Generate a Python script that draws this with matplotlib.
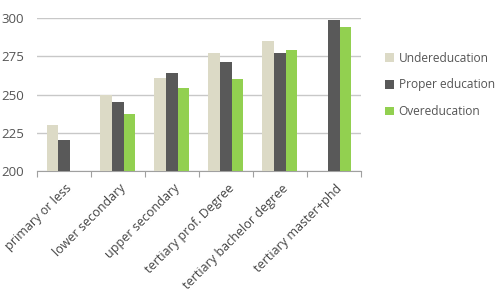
import matplotlib
matplotlib.use("Agg")
import matplotlib.pyplot as plt
import numpy as np

plt.rcParams['font.family'] = ['Open Sans', 'DejaVu Sans']

categories = ["primary or less", "lower secondary", "upper secondary",
              "tertiary prof. Degree", "tertiary bachelor degree", "tertiary master+phd"]
under = [230, 250, 261, 277, 285, np.nan]
proper = [220, 245, 264, 271, 277, 299]
over = [np.nan, 237.5, 254.5, 260, 279, 294]

c_under = "#dcdac6"
c_proper = "#595959"
c_over = "#92d050"

fig = plt.figure(figsize=(4.99, 2.97), dpi=100)
ax = fig.add_axes([0.074, 0.424, 0.649, 0.515])

x = np.arange(len(categories))
w = 0.215
ax.bar(x - w, under, w, color=c_under, label="Undereducation", zorder=3)
ax.bar(x, proper, w, color=c_proper, label="Proper education", zorder=3)
ax.bar(x + w, over, w, color=c_over, label="Overeducation", zorder=3)

ax.set_xlim(-0.5, len(categories) - 0.5)
ax.set_ylim(200, 300)
ax.set_yticks([200, 225, 250, 275, 300])
ax.yaxis.grid(True, color="#c8c8c8", linewidth=1, zorder=0)
for s in ["top", "right", "left"]:
    ax.spines[s].set_visible(False)
ax.spines["bottom"].set_color("#a0a0a0")
ax.tick_params(axis="y", length=0, labelsize=9.5, labelcolor="#555555", pad=9)

ax.set_xticks(np.arange(len(categories) + 1) - 0.5, minor=False)
ax.set_xticklabels([])
ax.tick_params(axis="x", length=4, color="#a0a0a0", direction="out")
for i, lab in enumerate(categories):
    ax.text(i + 0.03, 193, lab, rotation=45, ha="right", va="top",
            rotation_mode="anchor", fontsize=9, color="#444444", clip_on=False)

ax.legend(loc="upper left", bbox_to_anchor=(0.751, 0.862),
          bbox_transform=fig.transFigure, frameon=False,
          fontsize=8.6, handlelength=0.75, handleheight=0.75, handletextpad=0.35,
          labelspacing=1.15, labelcolor="#555555")

fig.savefig("out.png", dpi=100)
